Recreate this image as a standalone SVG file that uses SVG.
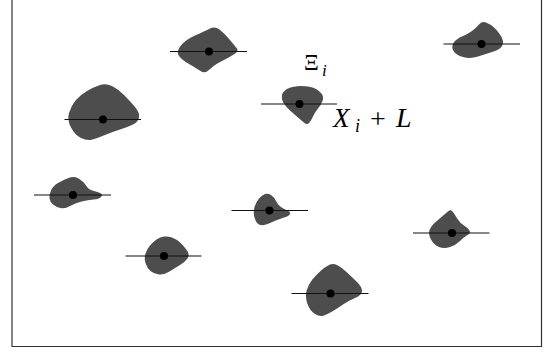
<svg xmlns="http://www.w3.org/2000/svg" width="545" height="354" viewBox="0 0 545 354">
<style>
.blob{fill:#4d4d4d;stroke:none}
.axis{stroke:#111;stroke-width:1.2;fill:none}
.dot{fill:#000}
.frame{fill:none;stroke:#333;stroke-width:1.2}
.m{font-family:"Liberation Serif",serif;fill:#000}
.it{font-style:italic}
</style>
<rect x="0" y="0" width="545" height="354" fill="#fff"/>
<path class="frame" d="M12,0 V346.5 H541.5 V0"/>
<g id="grain1"><path class="blob" d="M179,56 Q176,52 180.5,46 Q185,40 195,35.5 Q205,31 210,28.5 Q215,26 219.5,29.5 Q224,33 229.5,39.5 Q235,46 237,48.5 Q239,51 234.5,54 Q230,57 222,61 Q214,65 209.5,69.5 Q205,74 200.5,71 Q196,68 189,64 Q182,60 179,56 Z"/></g>
<g id="grain2"><path class="blob" d="M453.5,51 Q451,47 453.5,43 Q456,39 462,36.5 Q468,34 472,31 Q476,28 479,24.5 Q482,21 486,22.5 Q490,24 494,27.5 Q498,31 501,36 Q504,41 502.5,45 Q501,49 493.5,51.5 Q486,54 478,56.5 Q470,59 463,57 Q456,55 453.5,51 Z"/></g>
<g id="grain3"><path class="blob" d="M71,127.5 Q67,120 69,113 Q71,106 75.5,100.5 Q80,95 87,91 Q94,87 100,85 Q106,83 112,86 Q118,89 124,95 Q130,101 135,107 Q140,113 139,117.5 Q138,122 133,124.5 Q128,127 120,129.5 Q112,132 105,135 Q98,138 92.5,139.5 Q87,141 81,138 Q75,135 71,127.5 Z"/></g>
<g id="grain4"><path class="blob" d="M283.5,103 Q281,99 282,95 Q283,91 288,88.5 Q293,86 301,86 Q309,86 314,88 Q319,90 321.5,93.5 Q324,97 322.5,101 Q321,105 318,108.5 Q315,112 313,116.5 Q311,121 309,123 Q307,125 304.5,123 Q302,121 298,117.5 Q294,114 290,110.5 Q286,107 283.5,103 Z"/></g>
<g id="grain5"><path class="blob" d="M49.5,198.5 Q49,195 51,190.5 Q53,186 58,183 Q63,180 68.5,178 Q74,176 78.5,178.5 Q83,181 86,185.5 Q89,190 94,191 Q99,192 101,193.5 Q103,195 101,197 Q99,199 93.5,199.5 Q88,200 81.5,201.5 Q75,203 70,206 Q65,209 60.5,208 Q56,207 53,204.5 Q50,202 49.5,198.5 Z"/></g>
<g id="grain6"><path class="blob" d="M254.5,217.5 Q253,212 254.5,207 Q256,202 259,198.5 Q262,195 265,194 Q268,193 271,195 Q274,197 276,201 Q278,205 281,207 Q284,209 287.5,210.5 Q291,212 290,214 Q289,216 284,217.5 Q279,219 274.5,221 Q270,223 266,224.5 Q262,226 259,224.5 Q256,223 254.5,217.5 Z"/></g>
<g id="grain7"><path class="blob" d="M431,239.5 Q428,234 429.5,230 Q431,226 434.5,223 Q438,220 442,216.5 Q446,213 448.5,211 Q451,209 453,212 Q455,215 457.5,219 Q460,223 464,225.5 Q468,228 469.5,230.5 Q471,233 467.5,235 Q464,237 460,241 Q456,245 450,247 Q444,249 439,247 Q434,245 431,239.5 Z"/></g>
<g id="grain8"><path class="blob" d="M145.5,263 Q144,258 145.5,253.5 Q147,249 150,245.5 Q153,242 156.5,239.5 Q160,237 164,236.5 Q168,236 172,237.5 Q176,239 180,242.5 Q184,246 187,250.5 Q190,255 187.5,258.5 Q185,262 180,265 Q175,268 169.5,271.5 Q164,275 159,274.5 Q154,274 150.5,271 Q147,268 145.5,263 Z"/></g>
<g id="grain9"><path class="blob" d="M307.5,304 Q305,297 306.5,291 Q308,285 312,280 Q316,275 320.5,271 Q325,267 329,265 Q333,263 337,265 Q341,267 346.5,272 Q352,277 357,282 Q362,287 362,291 Q362,295 355,298 Q348,301 343,304.5 Q338,308 333,311 Q328,314 324,315.5 Q320,317 315,314 Q310,311 307.5,304 Z"/></g>
<g id="axes">
<line class="axis" x1="170" y1="51.5" x2="247" y2="51.5"/>
<line class="axis" x1="443.5" y1="44" x2="520" y2="44"/>
<line class="axis" x1="64.5" y1="119.5" x2="141" y2="119.5"/>
<line class="axis" x1="261" y1="104" x2="337" y2="104"/>
<line class="axis" x1="34" y1="195" x2="111" y2="195"/>
<line class="axis" x1="231.5" y1="210.5" x2="308" y2="210.5"/>
<line class="axis" x1="413" y1="233" x2="489.5" y2="233"/>
<line class="axis" x1="125.5" y1="256" x2="201.5" y2="256"/>
<line class="axis" x1="291.5" y1="293.5" x2="368.5" y2="293.5"/>
</g>
<g id="centers">
<circle class="dot" cx="209" cy="51.5" r="4"/>
<circle class="dot" cx="481.5" cy="44" r="4"/>
<circle class="dot" cx="103" cy="119.5" r="4"/>
<circle class="dot" cx="299.5" cy="104" r="4"/>
<circle class="dot" cx="73" cy="195" r="4"/>
<circle class="dot" cx="269.5" cy="210.5" r="4"/>
<circle class="dot" cx="452" cy="233" r="4"/>
<circle class="dot" cx="164" cy="256" r="4"/>
<circle class="dot" cx="330.5" cy="293.5" r="4"/>
</g>
<g id="labels">
<text class="m" x="304" y="70" font-size="23">Ξ</text>
<text class="m it" x="322" y="76" font-size="17">i</text>
<text class="m it" x="333" y="127" font-size="27">X</text>
<text class="m it" x="355" y="132" font-size="18">i</text>
<text class="m" x="370" y="128" font-size="28">+</text>
<text class="m it" x="396" y="127" font-size="28">L</text>
</g>
</svg>
